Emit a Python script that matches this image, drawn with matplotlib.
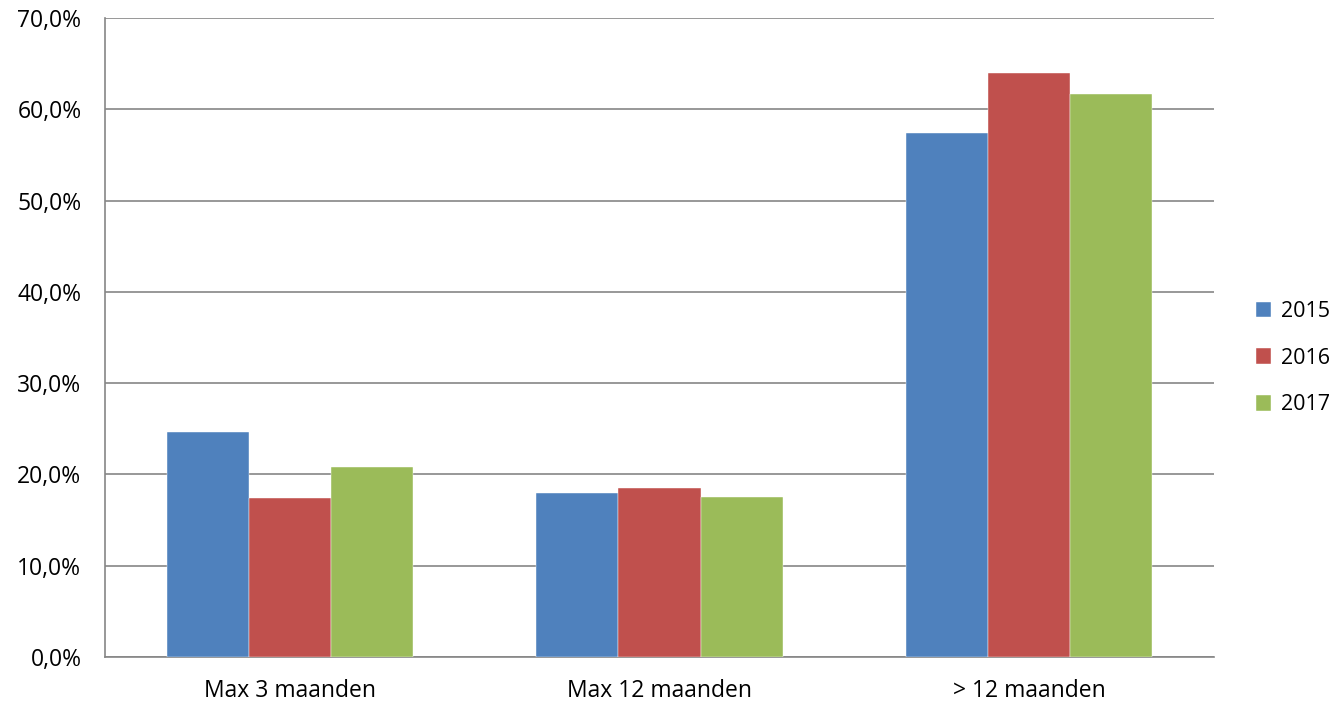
import matplotlib.pyplot as plt
import numpy as np
from matplotlib.ticker import FuncFormatter

plt.rcParams['font.family'] = ['Open Sans', 'DejaVu Sans']

# data
categories = ['Max 3 maanden', 'Max 12 maanden', '> 12 maanden']
years = ['2015', '2016', '2017']
values_2015 = [24.6, 18.0, 57.4]
values_2016 = [17.4, 18.5, 64.0]
values_2017 = [20.8, 17.5, 61.7]
colors = ['#4F81BD', '#C0504D', '#9BBB59']

fig = plt.figure(figsize=(13.36, 7.05), dpi=100)
ax = fig.add_axes((0.0786, 0.0681, 0.8301, 0.9064))

x = np.arange(len(categories))
width = 0.222
series = [values_2015, values_2016, values_2017]
for i, (vals, year, col) in enumerate(zip(series, years, colors)):
    ax.bar(x + (i - 1) * width, vals, width, color=col, label=year,
           edgecolor='white', linewidth=0.3, zorder=3)

ax.set_xlim(-0.5, 2.5)
ax.set_ylim(0, 70)
ax.set_yticks(np.arange(0, 71, 10))
ax.yaxis.set_major_formatter(FuncFormatter(lambda v, p: f'{v:.1f}%'.replace('.', ',')))
ax.set_xticks(x)
ax.set_xticklabels(categories)
ax.tick_params(axis='both', length=0, labelsize=16.5, colors='black')
ax.tick_params(axis='y', pad=17)
ax.tick_params(axis='x', pad=16)

ax.grid(axis='y', color='#868686', linewidth=1.2, zorder=0)
ax.set_axisbelow(True)
ax.spines['top'].set_visible(False)
ax.spines['right'].set_visible(False)
for s in ['left', 'bottom']:
    ax.spines[s].set_color('#868686')
    ax.spines[s].set_linewidth(1.2)

fig.legend(loc='center left', bbox_to_anchor=(0.940, 0.492), frameon=False,
           fontsize=15.5, handlelength=0.72, handleheight=0.72, handletextpad=0.45,
           labelspacing=1.2, borderpad=0, borderaxespad=0)

fig.savefig('out.png', dpi=100)
